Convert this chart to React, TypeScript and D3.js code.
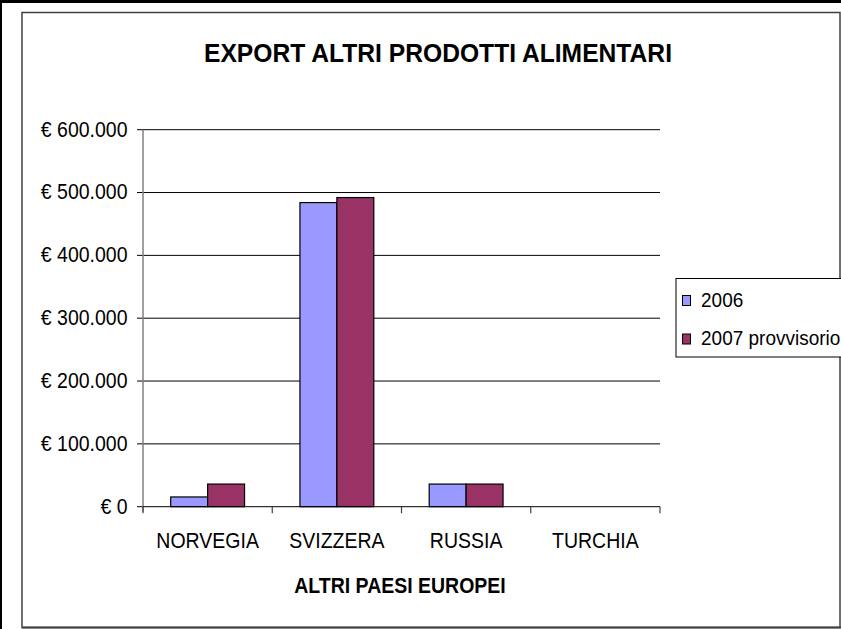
import React from "react";
import * as d3 from "d3";

// chart data
const categories = ["NORVEGIA", "SVIZZERA", "RUSSIA", "TURCHIA"];
const seriesNames = ["2006", "2007 provvisorio"];
const values2006 = [15500, 484000, 36000, 0];
const values2007 = [36000, 492000, 36000, 0];
const yTicks = [0, 100000, 200000, 300000, 400000, 500000, 600000];
const seriesColors = ["#9999ff", "#993366"];

const W = 841;
const H = 629;
const plot = { left: 143, right: 660, top: 129.7, bottom: 506.7 };
const FONT = "'Liberation Sans', Arial, Helvetica, sans-serif";
const STRETCH = 1.1;

const fmt = (v: number) =>
  "€ " + (v === 0 ? "0" : d3.format(",")(v).replace(/,/g, "."));

// text slightly stretched vertically like the original rendering
const Txt = (props: any) => {
  const { x, y, children, ...rest } = props;
  return (
    <text transform={`translate(${x},${y}) scale(1,${STRETCH})`} {...rest}>
      {children}
    </text>
  );
};

const App = () => {
  const x0 = d3.scaleBand().domain(categories).range([plot.left, plot.right]);
  const bw = x0.bandwidth();
  const barW = bw / 3.5; // gap width 150%
  const x1 = d3
    .scaleBand()
    .domain(seriesNames)
    .range([barW * 0.75, bw - barW * 0.75]);
  const y = d3.scaleLinear().domain([0, 600000]).range([plot.bottom, plot.top]);

  const seriesValues = [values2006, values2007];
  const boundaries = [...categories.map((c) => x0(c) as number), plot.right];

  return (
    <svg
      width={W}
      height={H}
      style={{ position: "absolute", left: 0, top: 0, display: "block" }}
      fontFamily={FONT}
    >
      <rect x={0} y={0} width={W} height={H} fill="#fff" />
      {/* outer frame */}
      <rect x={22} y={12.5} width={818} height={615} fill="#fff" stroke="#404040" strokeWidth={1.5} />
      <line x1={0} x2={W} y1={1.5} y2={1.5} stroke="#000" strokeWidth={3} />
      <line x1={1} x2={1} y1={0} y2={H} stroke="#000" strokeWidth={2} />
      <line x1={22} x2={W} y1={627.5} y2={627.5} stroke="#404040" strokeWidth={2} />

      {/* title */}
      <Txt
        x={438}
        y={62}
        textAnchor="middle"
        fontWeight="bold"
        fontSize={24}
        textLength={468}
        lengthAdjust="spacingAndGlyphs"
      >
        EXPORT ALTRI PRODOTTI ALIMENTARI
      </Txt>

      {/* gridlines and y axis */}
      {yTicks.map((t) => (
        <g key={t}>
          {t > 0 && (
            <line x1={plot.left} x2={plot.right} y1={y(t)} y2={y(t)} stroke="#000" strokeWidth={1} />
          )}
          <line x1={plot.left - 6} x2={plot.left} y1={y(t)} y2={y(t)} stroke="#000" strokeWidth={1} />
          <Txt x={127.5} y={y(t) + 6.8} textAnchor="end" fontSize={19.5}>
            {fmt(t)}
          </Txt>
        </g>
      ))}
      <line x1={plot.left} x2={plot.left} y1={plot.top} y2={plot.bottom + 5} stroke="#808080" strokeWidth={1.5} />

      {/* bars */}
      {categories.map((c, i) => (
        <g key={c} transform={`translate(${x0(c)},0)`}>
          {seriesNames.map((s, j) => {
            const v = seriesValues[j][i];
            if (!v) return null;
            return (
              <rect
                key={s}
                x={x1(s)}
                y={y(v)}
                width={x1.bandwidth()}
                height={plot.bottom - y(v)}
                fill={seriesColors[j]}
                stroke="#000"
                strokeWidth={1.2}
              />
            );
          })}
        </g>
      ))}

      {/* x axis */}
      <line x1={plot.left} x2={plot.right} y1={plot.bottom} y2={plot.bottom} stroke="#000" strokeWidth={1} />
      {boundaries.map((b, i) => (
        <line key={i} x1={b} x2={b} y1={plot.bottom} y2={plot.bottom + 6.5} stroke="#404040" strokeWidth={1.2} />
      ))}
      {categories.map((c) => (
        <Txt key={c} x={(x0(c) as number) + bw / 2} y={548} textAnchor="middle" fontSize={19.5}>
          {c}
        </Txt>
      ))}
      <Txt x={400} y={593} textAnchor="middle" fontWeight="bold" fontSize={19.5}>
        ALTRI PAESI EUROPEI
      </Txt>

      {/* legend */}
      <rect x={676} y={278.5} width={180} height={78.5} fill="#fff" stroke="#000" strokeWidth={1} />
      {seriesNames.map((s, j) => (
        <g key={s}>
          <rect x={682.5} y={295.5 + j * 38.5} width={8} height={10} fill={seriesColors[j]} stroke="#000" strokeWidth={1} />
          <Txt x={701} y={306.5 + j * 38.5} fontSize={19}>
            {s}
          </Txt>
        </g>
      ))}
    </svg>
  );
};

export default App;
